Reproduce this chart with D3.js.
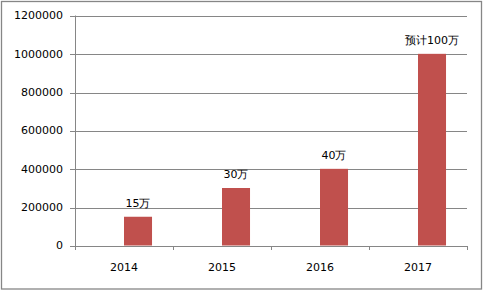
<!DOCTYPE html>
<meta charset="utf-8">
<style>
body { margin: 0; background: #fff; }
text { font-family: "DejaVu Sans", sans-serif; font-size: 11px; fill: #000; }
.grid line { stroke: #868686; shape-rendering: crispEdges; }
.axis path, .axis line { stroke: #868686; shape-rendering: crispEdges; }
</style>
<body>
<div id="chart"></div>
<script src="https://cdn.jsdelivr.net/npm/d3@7"></script>
<script>
// data
var years = ['2014', '2015', '2016', '2017'];
var values = [150000, 300000, 400000, 1000000];
var labels = ['15万', '30万', '40万', '预计100万'];
var yTicks = [0, 200000, 400000, 600000, 800000, 1000000, 1200000];

var W = 483, H = 292;
var margin = {top: 15.5, right: 16, bottom: 46.5, left: 75};
var width = 392, height = 230;

var svg = d3.select('#chart').append('svg')
  .attr('width', W).attr('height', H);

// chart border
svg.append('rect')
  .attr('x', 1.5).attr('y', 1.5)
  .attr('width', 480).attr('height', 287.5)
  .attr('fill', '#fff')
  .attr('stroke', '#868686')
  .attr('stroke-width', 1.3);

var g = svg.append('g')
  .attr('transform', 'translate(' + margin.left + ',' + margin.top + ')');

var x = d3.scaleBand().domain(years).range([0, width]).padding(0);
var y = d3.scaleLinear().domain([0, 1200000]).range([height, 0]);

// gridlines + y ticks
var gy = g.append('g').attr('class', 'grid');
gy.selectAll('line').data(yTicks).enter().append('line')
  .attr('x1', -5).attr('x2', width)
  .attr('y1', function(d) { return Math.round(y(d)) + 0.5; })
  .attr('y2', function(d) { return Math.round(y(d)) + 0.5; });
gy.selectAll('text').data(yTicks).enter().append('text')
  .attr('x', -12)
  .attr('y', function(d) { return y(d); })
  .attr('dy', '0.36em')
  .attr('text-anchor', 'end')
  .text(function(d) { return d; });

// y axis line
g.append('line')
  .attr('x1', 0.5).attr('x2', 0.5)
  .attr('y1', 0).attr('y2', height + 4)
  .attr('stroke', '#868686');

// x axis
var xa = g.append('g').attr('class', 'axis')
  .attr('transform', 'translate(0,' + (Math.round(height) + 0.5) + ')');
xa.append('line').attr('x1', 0).attr('x2', width).attr('stroke', '#868686');
xa.selectAll('.tk').data(d3.range(years.length + 1)).enter().append('line')
  .attr('class', 'tk')
  .attr('x1', function(i) { return Math.round(i * x.bandwidth()) + 0.5; })
  .attr('x2', function(i) { return Math.round(i * x.bandwidth()) + 0.5; })
  .attr('y1', 0).attr('y2', 4);
xa.selectAll('text').data(years).enter().append('text')
  .attr('x', function(d) { return x(d) + x.bandwidth() / 2; })
  .attr('y', 21)
  .attr('dy', '0.36em')
  .attr('text-anchor', 'middle')
  .text(function(d) { return d; });

// bars (right half of each category)
var bw = x.bandwidth() * 0.286;
g.selectAll('.bar').data(values).enter().append('rect')
  .attr('class', 'bar')
  .attr('x', function(d, i) { return x(years[i]) + x.bandwidth() / 2; })
  .attr('y', function(d) { return y(d); })
  .attr('width', bw)
  .attr('height', function(d) { return height - y(d); })
  .attr('fill', '#c0504d');

// value labels
g.selectAll('.lbl').data(values).enter().append('text')
  .attr('class', 'lbl')
  .attr('x', function(d, i) { return x(years[i]) + x.bandwidth() / 2 + bw / 2; })
  .attr('y', function(d) { return y(d) - 14; })
  .attr('dy', '0.36em')
  .attr('text-anchor', 'middle')
  .text(function(d, i) { return labels[i]; });
</script>
</body>
